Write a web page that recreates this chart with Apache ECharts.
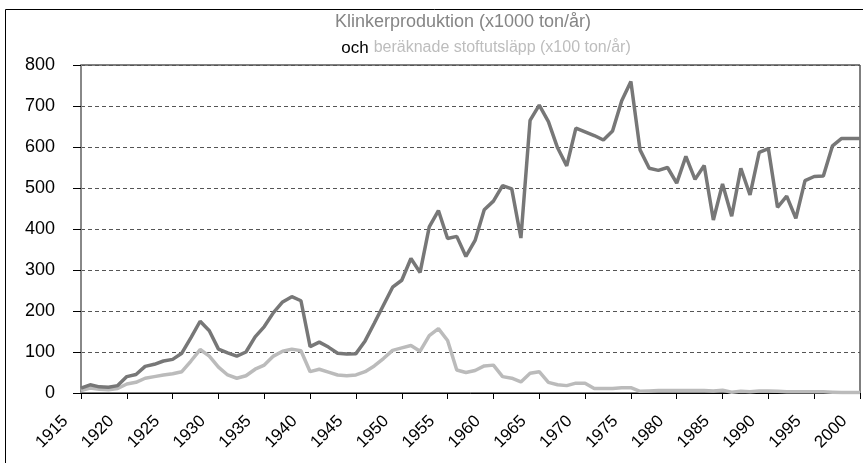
<!DOCTYPE html>
<html>
<head>
<meta charset="utf-8">
<script src="https://cdn.jsdelivr.net/npm/echarts@6/dist/echarts.min.js"></script>
<style>
  html, body { margin: 0; padding: 0; background: #fff; }
  #chart { width: 863px; height: 463px; }
</style>
</head>
<body>
<div id="chart"></div>
<script>
  // years on the category axis
  const firstYear = 1915
  const lastYear = 2000
  const years = []
  for (let y = firstYear; y <= lastYear; y++) years.push(String(y))

  // Klinkerproduktion (x1000 ton/år), 1915-2000
  const klinker = [
    12, 20, 15, 14, 18, 40, 45, 65, 70, 78,
    82, 97, 135, 175, 152, 107, 98, 90, 100, 137,
    162, 196, 222, 235, 225, 113, 124, 112, 97, 95,
    96, 127, 170, 214, 258, 275, 328, 294, 405, 445,
    377, 382, 333, 372, 447, 468, 506, 498, 378, 665,
    702, 662, 598, 554, 646, 637, 628, 617, 639, 713,
    760, 593, 548, 543, 550, 512, 577, 521, 555, 422,
    510, 431, 548, 483, 587, 596, 453, 480, 426, 518,
    528, 529, 603, 621, 621, 621
  ]

  // beräknade stoftutsläpp (x100 ton/år), 1915-2000
  const stoft = [
    6, 12, 9, 8, 11, 22, 26, 36, 40, 44,
    47, 52, 78, 106, 90, 63, 44, 36, 42, 58,
    68, 90, 102, 107, 103, 52, 58, 51, 44, 42,
    44, 52, 66, 84, 104, 110, 116, 102, 140, 157,
    128, 56, 50, 55, 66, 68, 40, 36, 27, 48,
    52, 26, 20, 18, 24, 24, 11, 11, 11, 13,
    13, 4, 5, 6, 6, 6, 6, 6, 6, 5,
    7, 2, 4, 3, 5, 5, 4, 3, 3, 3,
    3, 3, 2, 1, 1, 1
  ]

  const font = '"Liberation Sans", Arial, sans-serif'
  const chart = echarts.init(document.getElementById('chart'), null, { renderer: 'canvas' })

  chart.setOption({
    backgroundColor: '#fff',
    animation: false,
    textStyle: { fontFamily: font },
    title: [{
      text: 'Klinkerproduktion (x1000 ton/år)',
      left: 458,
      top: 8,
      textAlign: 'center',
      textStyle: { fontSize: 18, fontWeight: 'normal', color: '#858585', fontFamily: font }
    }, {
      text: '{a|och} {b|beräknade stoftutsläpp (x100 ton/år)}',
      left: 481,
      top: 34,
      textAlign: 'center',
      textStyle: {
        fontWeight: 'normal',
        rich: {
          a: { fontSize: 17, color: '#000', fontWeight: 'normal', fontFamily: font },
          b: { fontSize: 16, color: '#bdbdbd', fontWeight: 'normal', fontFamily: font }
        }
      }
    }],
    graphic: [{
      type: 'rect',
      shape: { x: 5.5, y: 9.5, width: 900, height: 500 },
      style: { fill: 'none', stroke: '#000', lineWidth: 1 },
      z: -1
    }],
    grid: {
      left: 81,
      right: 3,
      top: 65,
      bottom: 70,
      show: true,
      borderColor: '#000',
      borderWidth: 1
    },
    xAxis: {
      type: 'category',
      data: years,
      boundaryGap: false,
      axisLine: { lineStyle: { color: '#000', width: 1 } },
      axisTick: { interval: 4, length: 6, lineStyle: { color: '#000' } },
      axisLabel: {
        interval: 4,
        rotate: 45,
        fontSize: 17,
        color: '#000',
        margin: 10,
        padding: [0, 22, 0, 0]
      },
      splitLine: { show: false }
    },
    yAxis: {
      type: 'value',
      min: 0,
      max: 800,
      interval: 100,
      axisLine: { show: true, lineStyle: { color: '#888', width: 2 } },
      axisTick: { show: true, length: 8, lineStyle: { color: '#000' } },
      axisLabel: { fontSize: 18, color: '#000', margin: 26 },
      splitLine: { lineStyle: { color: '#555', type: [4, 3], width: 1 } }
    },
    series: [{
      name: 'Klinkerproduktion',
      type: 'line',
      data: klinker,
      showSymbol: false,
      lineStyle: { color: '#777', width: 3.5 },
      z: 3
    }, {
      name: 'Stoftutsläpp',
      type: 'line',
      data: stoft,
      showSymbol: false,
      lineStyle: { color: '#bbb', width: 3.5 },
      z: 2
    }]
  })
</script>
</body>
</html>
